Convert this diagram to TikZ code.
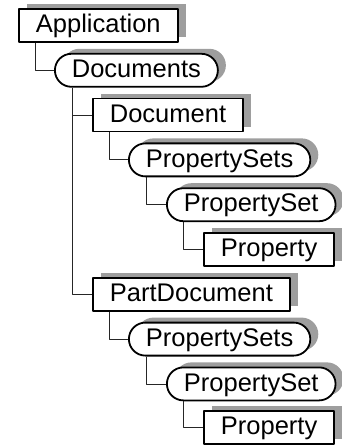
\documentclass[tikz,border=0pt]{standalone}
\usepackage{fontspec}
\setmainfont{Liberation Sans}
\usetikzlibrary{shadows}

\tikzset{
	objbox/.style={draw, fill=white, line width=1.8bp, anchor=west,
		minimum height=33bp, inner xsep=17bp, text height=18.5bp, text depth=4bp,
		drop shadow={shadow xshift=8bp, shadow yshift=5bp, fill=black!38, opacity=1}},
	collbox/.style={objbox, rounded corners=16.5bp},
	branch/.style={line width=0.8bp, black!85},
}

\begin{document}
\begin{tikzpicture}[x=1bp, y=-1bp, line join=round, font=\fontsize{25.5bp}{30bp}\selectfont]
	\useasboundingbox (0,0) rectangle (341,445);
	
	% Các nút của cây đối tượng
	\node[objbox]  (app)       at (18, 25.5)  {Application};
	\node[collbox] (docs)      at (54, 70.3)  {Documents};
	\node[objbox]  (doc)       at (92, 115.1) {Document};
	\node[collbox] (psets)     at (128, 159.9) {PropertySets};
	\node[collbox] (pset)      at (166, 204.7) {PropertySet};
	\node[objbox]  (prop)      at (203, 249.5) {Property};
	\node[objbox]  (partdoc)   at (92, 294.3) {PartDocument};
	\node[collbox] (partpsets) at (128, 339.1) {PropertySets};
	\node[collbox] (partpset)  at (166, 383.9) {PropertySet};
	\node[objbox]  (partprop)  at (203, 427.5) {Property};
	
	% Đường nối cha -- con
	\draw[branch] ([xshift=17bp]app.south west) |- (docs.west);
	\draw[branch] ([xshift=18bp]docs.south west) |- (doc.west);
	\draw[branch] ([xshift=18bp]docs.south west) |- (partdoc.west);
	\draw[branch] ([xshift=17bp]doc.south west) |- (psets.west);
	\draw[branch] ([xshift=18bp]psets.south west) |- (pset.west);
	\draw[branch] ([xshift=17bp]pset.south west) |- (prop.west);
	\draw[branch] ([xshift=17bp]partdoc.south west) |- (partpsets.west);
	\draw[branch] ([xshift=18bp]partpsets.south west) |- (partpset.west);
	\draw[branch] ([xshift=17bp]partpset.south west) |- (partprop.west);
\end{tikzpicture}
\end{document}
